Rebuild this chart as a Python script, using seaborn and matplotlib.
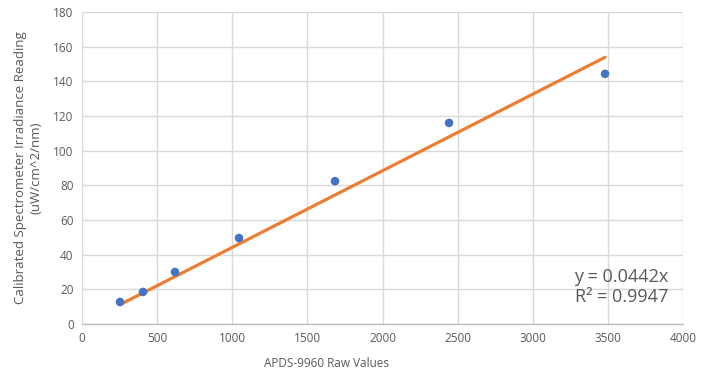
import matplotlib
matplotlib.use("Agg")
import matplotlib.pyplot as plt
import seaborn as sns
import numpy as np
import pandas as pd

raw_values = [253, 406, 619, 1045, 1684, 2443, 3481]
irradiance = [12.7, 18.5, 30.0, 49.6, 82.4, 116.0, 144.3]
slope = 0.0442
r_squared = 0.9947
x_ticks = [0, 500, 1000, 1500, 2000, 2500, 3000, 3500, 4000]
y_ticks = [0, 20, 40, 60, 80, 100, 120, 140, 160, 180]

sns.set_theme(style="white")
plt.rcParams['font.family'] = ['Open Sans', 'DejaVu Sans']

text_color = "#595959"
grid_color = "#d9d9d9"

fig = plt.figure(figsize=(7.06, 3.83), dpi=100)
ax = fig.add_axes([82/706, 59/383, 601/706, 312/383])

df = pd.DataFrame({"x": raw_values, "y": irradiance})
trend_x = [min(raw_values), max(raw_values)]
trend = pd.DataFrame({"x": trend_x, "y": [slope * v for v in trend_x]})

sns.lineplot(data=trend, x="x", y="y", ax=ax, color="#ED7D31", linewidth=2.3, zorder=3)
sns.scatterplot(data=df, x="x", y="y", ax=ax, color="#4472C4", s=38, edgecolor="none", zorder=4)

ax.set_xlim(0, 4000)
ax.set_ylim(0, 180)
ax.set_xticks(x_ticks)
ax.set_yticks(y_ticks)
ax.tick_params(axis="both", labelsize=8.5, colors=text_color, length=0, pad=6)
ax.grid(True, color=grid_color, linewidth=1)
ax.set_axisbelow(True)
for s in ["top", "right", "left"]:
    ax.spines[s].set_visible(False)
ax.spines["bottom"].set_color("#bfbfbf")
ax.spines["bottom"].set_linewidth(1)

ax.set_xlabel("APDS-9960 Raw Values", fontsize=8.5, color=text_color, labelpad=6)
ax.xaxis.set_label_coords((326-82)/601, -0.105)
ax.set_ylabel("Calibrated Spectrometer Irradiance Reading\n(uW/cm^2/nm)", fontsize=9.5,
              color=text_color, labelpad=8, linespacing=1.2)

ax.text(0.975, 0.12, f"y = {slope}x\nR² = {r_squared}", transform=ax.transAxes,
        ha="right", va="center", fontsize=13, color=text_color, linespacing=1.15)

fig.savefig("out.png", dpi=100)
